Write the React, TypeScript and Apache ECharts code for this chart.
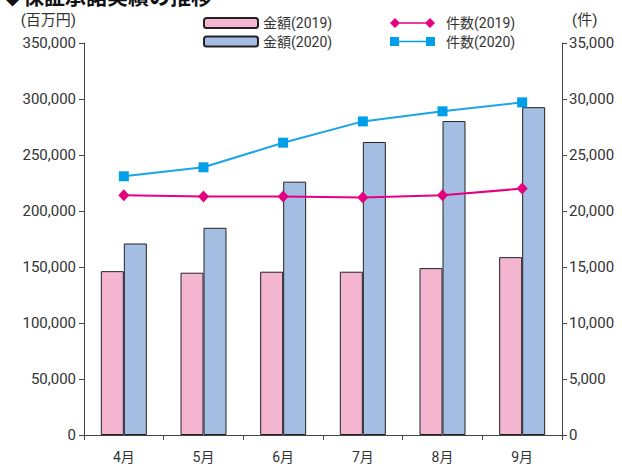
import React, { useEffect, useRef } from "react";
import * as echarts from "echarts";

const categories = ["4月", "5月", "6月", "7月", "8月", "9月"];
const amount2019 = [146300, 144900, 145800, 145800, 149000, 158800];
const amount2020 = [171000, 185000, 226200, 261600, 280300, 292700];
const count2019 = [21400, 21300, 21300, 21200, 21400, 22000];
const count2020 = [23100, 23900, 26100, 28000, 28900, 29700];

const leftTicks = { min: 0, max: 350000, interval: 50000 };
const rightTicks = { min: 0, max: 35000, interval: 5000 };

const FONT = 'Roboto, "Noto Sans CJK JP", sans-serif';
const PINK = "#f3b5d0";
const BLUE = "#a4bde3";
const MAGENTA = "#e4007f";
const CYAN = "#009fe8";
const AXIS = "#444";
const TEXT = "#333";

const diamondIcon =
  "path://M0 5 L5 0 L10 5 L5 10 Z M5 4.2 L40 4.2 L40 5.8 L5 5.8 Z M35 5 L40 0 L45 5 L40 10 Z";
const squareIcon =
  "path://M0 0.5 L9 0.5 L9 9.5 L0 9.5 Z M9 4.3 L36 4.3 L36 5.7 L9 5.7 Z M36 0.5 L45 0.5 L45 9.5 L36 9.5 Z";

const fmt = (v: number) => v.toLocaleString("en-US");

export default function App() {
  const ref = useRef<HTMLDivElement>(null);
  useEffect(() => {
    if (!ref.current) return;
    const chart = echarts.init(ref.current, undefined, { renderer: "svg" });
    chart.setOption({
      animation: false,
      backgroundColor: "#fff",
      textStyle: { fontFamily: FONT },
      grid: { left: 84, right: 60, top: 43, bottom: 29, containLabel: false },
      graphic: [
        {
          type: "text",
          left: 2,
          top: -14,
          style: {
            text: "◆保証承諾実績の推移",
            fontSize: 21,
            fontWeight: "bold",
            fill: "#111",
            fontFamily: FONT,
          },
        },
      ],
      legend: [
        {
          data: ["金額(2019)", "金額(2020)"],
          orient: "vertical",
          left: 198,
          top: 10,
          itemWidth: 54,
          itemHeight: 10,
          itemGap: 2.5,
          textStyle: { fontSize: 14, lineHeight: 16, color: TEXT, fontFamily: FONT },
          selectedMode: false,
        },
        {
          data: [
            { name: "件数(2019)", icon: diamondIcon },
            { name: "件数(2020)", icon: squareIcon },
          ],
          orient: "vertical",
          left: 385,
          top: 10,
          itemWidth: 45,
          itemHeight: 10,
          itemGap: 2.5,
          itemStyle: { borderWidth: 0 },
          textStyle: {
            fontSize: 14,
            lineHeight: 16,
            color: TEXT,
            fontFamily: FONT,
            padding: [0, 0, 0, 6],
          },
          selectedMode: false,
        },
      ],
      xAxis: {
        type: "category",
        data: categories,
        boundaryGap: true,
        axisLine: { lineStyle: { color: AXIS, width: 1 } },
        axisTick: { show: true, length: 5, inside: false, lineStyle: { color: AXIS } },
        axisLabel: { fontSize: 14, color: TEXT, margin: 15, fontFamily: FONT },
        splitLine: { show: false },
      },
      yAxis: [
        {
          type: "value",
          ...leftTicks,
          position: "left",
          name: "(百万円)",
          nameLocation: "end",
          nameGap: 16,
          nameTextStyle: {
            fontSize: 15,
            color: TEXT,
            align: "right",
            verticalAlign: "bottom",
            padding: [0, 8, 0, 0],
            fontFamily: FONT,
          },
          axisLine: { show: true, lineStyle: { color: AXIS, width: 1 } },
          axisTick: { show: true, length: 5, inside: false, lineStyle: { color: AXIS } },
          axisLabel: { fontSize: 15, color: TEXT, margin: 8, formatter: fmt, fontFamily: FONT },
          splitLine: { show: false },
        },
        {
          type: "value",
          ...rightTicks,
          position: "right",
          name: "(件)",
          nameLocation: "end",
          nameGap: 16,
          nameTextStyle: {
            fontSize: 15,
            color: TEXT,
            align: "left",
            verticalAlign: "bottom",
            padding: [0, 0, 0, 10],
            fontFamily: FONT,
          },
          axisLine: { show: true, lineStyle: { color: AXIS, width: 1 } },
          axisTick: { show: true, length: 5, inside: false, lineStyle: { color: AXIS } },
          axisLabel: { fontSize: 15, color: TEXT, margin: 7, formatter: fmt, fontFamily: FONT },
          splitLine: { show: false },
        },
      ],
      series: [
        {
          name: "金額(2019)",
          type: "bar",
          data: amount2019,
          barWidth: 23,
          barGap: "0%",
          itemStyle: { color: PINK, borderColor: "#222", borderWidth: 1 },
        },
        {
          name: "金額(2020)",
          type: "bar",
          data: amount2020,
          barWidth: 23,
          barGap: "0%",
          itemStyle: { color: BLUE, borderColor: "#222", borderWidth: 1 },
        },
        {
          name: "件数(2019)",
          type: "line",
          yAxisIndex: 1,
          data: count2019,
          symbol: "diamond",
          symbolSize: [11, 12],
          lineStyle: { color: MAGENTA, width: 2 },
          itemStyle: { color: MAGENTA, borderWidth: 0 },
        },
        {
          name: "件数(2020)",
          type: "line",
          yAxisIndex: 1,
          data: count2020,
          symbol: "rect",
          symbolSize: 10,
          lineStyle: { color: "#1ba4e6", width: 2 },
          itemStyle: { color: CYAN, borderWidth: 0 },
        },
      ],
    });
    return () => chart.dispose();
  }, []);
  return (
    <div
      ref={ref}
      style={{ position: "fixed", left: 0, top: 0, width: 622, height: 464, background: "#fff" }}
    />
  );
}
